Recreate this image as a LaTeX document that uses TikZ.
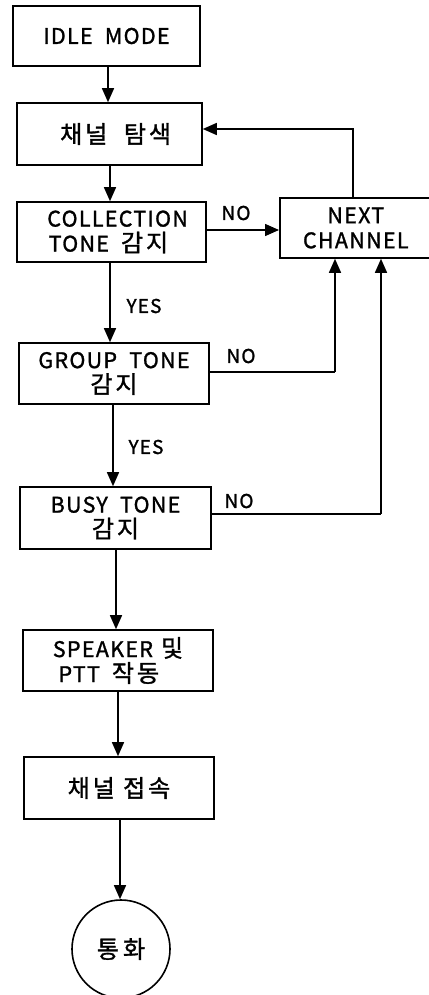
\documentclass[tikz,border=0pt]{standalone}
\usepackage{fontspec}
\setmainfont{Noto Sans CJK KR}[BoldFont=*, BoldFeatures={FakeBold=1.3}, LetterSpace=6]
\newfontfamily\ko{Noto Sans CJK KR}[Scale=1.12, BoldFont=*, BoldFeatures={FakeBold=1.3}, LetterSpace=12]
\usetikzlibrary{arrows.meta}
\begin{document}
\begin{tikzpicture}[x=1pt,y=-1pt,
  box/.style={draw,line width=1.6pt,inner sep=0pt,align=center,
    font=\fontsize{21.5}{25}\selectfont\bfseries},
  lbl/.style={inner sep=0pt,font=\fontsize{19}{20}\selectfont\bfseries},
  arr/.style={line width=1.5pt,-{Triangle[length=14pt,width=12pt]}},
  ln/.style={line width=1.5pt}]
\useasboundingbox (0,0) rectangle (428,995);
\node[box,minimum width=187pt,minimum height=60pt] (idle) at (106.5,36) {IDLE\ \ MODE};
\node[box,minimum width=185pt,minimum height=62pt] (search) at (109.5,134) {\ \ {\ko 채널\ \ 탐색}};
\node[box,minimum width=189pt,minimum height=60pt] (coll) at (111.5,232) {\ \ COLLECTION\\TONE\kern12pt{\ko 감지}\ \ };
\node[box,minimum width=152pt,minimum height=60pt,anchor=west] (next) at (279,228) {NEXT\\CHANNEL};
\node[box,minimum width=190pt,minimum height=61pt] (group) at (114,373.5) {GROUP\ \ TONE\\{\ko 감지}};
\node[box,minimum width=191pt,minimum height=62pt] (busy) at (115.5,518) {BUSY\ \ TONE\\{\ko 감지}};
\node[box,minimum width=190pt,minimum height=61pt] (spk) at (118,660.5) {SPEAKER\kern8pt{\ko 및}\\PTT\kern12pt{\ko 작동}\ \ \ \ };
\node[box,minimum width=190pt,minimum height=62pt] (conn) at (119,788) {{\ko 채널\ 접속}};
\node[draw,circle,line width=1.6pt,minimum size=98pt,inner sep=0pt,
  font=\fontsize{21.5}{20}\selectfont\bfseries] (talk) at (121,949) {{\ko 통\,화}};
\coordinate (c1) at (353,129);
\coordinate (c2) at (335,372);
\coordinate (c3) at (381,514);
% vertical flow
\draw[arr] (idle.south -| 108,0) -- (search.north -| 108,0);
\draw[arr] (search.south -| 110,0) -- (coll.north -| 110,0);
\draw[arr] (coll.south -| 110,0) -- (group.north -| 110,0);
\node[lbl] (y1) at (144,306) {YES};
\draw[arr] (group.south -| 113,0) -- (busy.north -| 113,0);
\node[lbl] (y2) at (146,447) {YES};
\draw[arr] (busy.south -| 116,0) -- (spk.north -| 116,0);
\draw[arr] (spk.south -| 118,0) -- (conn.north -| 118,0);
\draw[arr] (conn.south -| 120,0) -- (talk.north -| 120,0);
% NO branches
\draw[arr] (coll.east |- 0,230) -- (next.west |- 0,230);
\node[lbl] (n1) at (236,213) {NO};
\draw[arr] (next.north -| c1) -- (c1) -- (search.east |- c1);
\draw[ln] (group.east |- c2) -- (c2);
\draw[arr] (c2) -- (next.south -| c2);
\node[lbl] (n2) at (241,356) {NO};
\draw[ln] (busy.east |- c3) -- (c3);
\draw[arr] (c3) -- (next.south -| c3);
\node[lbl] (n3) at (239,501) {NO};
\end{tikzpicture}
\end{document}
